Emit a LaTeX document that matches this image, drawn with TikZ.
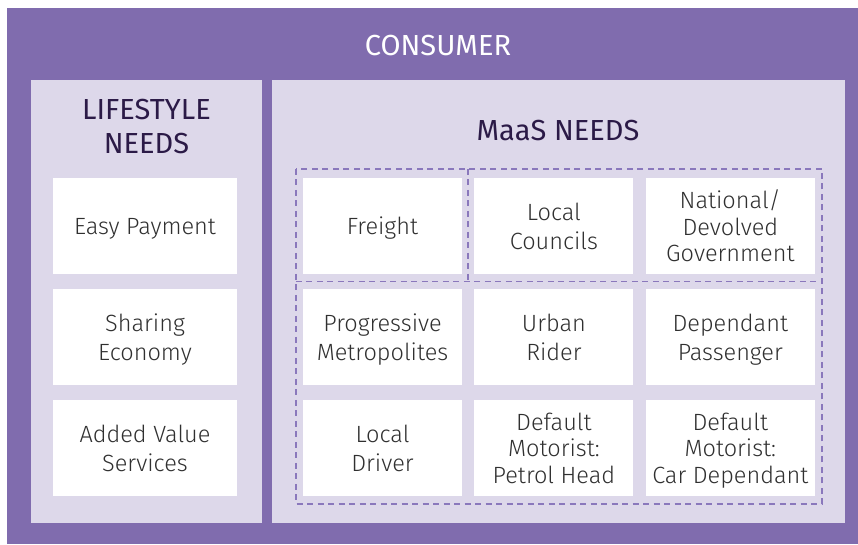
\documentclass[tikz,border=0pt]{standalone}
\usepackage{fontspec}
\setmainfont{Fira Sans}
\newfontfamily\boxfont{Fira Sans Light}
\usetikzlibrary{calc, positioning}
\definecolor{consumer}{HTML}{806CAE}
\definecolor{panelbg}{HTML}{DDD8EA}
\definecolor{headtext}{HTML}{2B1A47}
\definecolor{boxtext}{HTML}{303030}
\definecolor{dashline}{HTML}{8A78BC}
\tikzset{
node distance=14.5pt and 12pt, % row gap and column gap of the boxes
needbox/.style={fill=white, text=boxtext, minimum width=159pt, minimum height=96pt,
  inner sep=0pt, align=center, text depth=0pt,
  font=\boxfont\fontsize{23.5}{29}\selectfont}, % white need box
widebox/.style={needbox, minimum width=169pt}, % last column is a bit wider
lifebox/.style={needbox, minimum width=184pt}, % lifestyle column
tight/.style={font=\boxfont\fontsize{23.5}{26.5}\selectfont}, % three line boxes
header/.style={text=headtext, align=center, font=\fontsize{29}{34}\selectfont},
group/.style={draw=dashline, line width=1.5pt, dash pattern=on 6pt off 4.5pt},
}

\begin{document}
\begin{tikzpicture}[x=1pt, y=-1pt]
  \useasboundingbox (0,0) rectangle (858,544);
  % Backgrounds ----------------------------------
  \fill[consumer] (7,8) rectangle (858,544);
  \fill[panelbg] (31,80) rectangle (262,523);
  \fill[panelbg] (272,80) rectangle (845,523);

  % Titles ---------------------------------------
  \node[header, text=white, anchor=base] (consumer) at (438,55) {CONSUMER};
  \node[header] (lifestyle) at (146.5,127) {LIFESTYLE\\NEEDS};
  \node[header, anchor=base] (maas) at (558,140) {MaaS NEEDS};

  % Lifestyle needs ------------------------------
  \node[lifebox] (payment) at (145,226) {Easy Payment};
  \node[lifebox, below=of payment] (sharing) {Sharing\\Economy};
  \node[lifebox, below=of sharing] (added) {Added Value\\Services};

  % MaaS needs -----------------------------------
  \node[needbox] (freight) at (382.5,226) {Freight};
  \node[needbox, right=of freight] (councils) {Local\\Councils};
  \node[widebox, tight, right=of councils] (government) {National/\\Devolved\\Government};

  \node[needbox, below=of freight] (metro) {Progressive\\Metropolites};
  \node[needbox, right=of metro] (urban) {Urban\\Rider};
  \node[widebox, right=of urban] (passenger) {Dependant\\Passenger};

  \node[needbox, below=of metro] (driver) {Local\\Driver};
  \node[needbox, tight, right=of driver] (petrol) {Default\\Motorist:\\Petrol Head};
  \node[widebox, tight, right=of petrol] (cardep) {Default\\Motorist:\\Car Dependant};

  % Dashed groups --------------------------------
  \coordinate (gnw) at ($(freight.north west)+(-7,-9)$);
  \coordinate (gse) at ($(cardep.south east)+(7,8)$);
  \coordinate (midrow) at ($(freight.south west)!0.5!(metro.north west)$);
  \coordinate (midcol) at ($(freight.north east)!0.5!(councils.north west)$);
  \draw[group] (gnw) rectangle (gse);
  \draw[group] (gnw |- midrow) -- (gse |- midrow);
  \draw[group] (midcol |- gnw) -- (midcol |- midrow);
\end{tikzpicture}
\end{document}
